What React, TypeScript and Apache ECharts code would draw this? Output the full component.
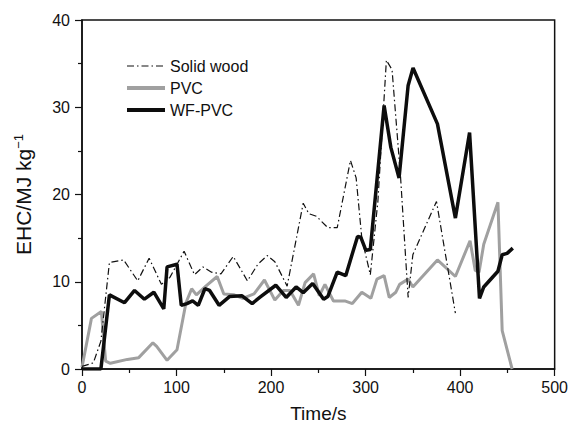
import React, { useEffect, useRef } from "react";
import * as echarts from "echarts";

const xTicks = [0, 100, 200, 300, 400, 500];
const yTicks = [0, 10, 20, 30, 40];

const seriesNames = ["Solid wood", "PVC", "WF-PVC"];

const solidWoodTime = [0, 12, 20, 29, 44, 59, 71, 84, 93, 108, 119, 128, 137, 147, 160, 175, 186, 196, 204, 217, 234, 240, 248, 260, 270, 284, 290, 296, 305, 313, 322, 328, 337, 345, 350, 375, 395];
const solidWoodEHC = [0.3, 0.7, 3.2, 12.2, 12.5, 10.1, 12.7, 9.7, 10.5, 13.5, 10.8, 11.7, 11.1, 10.9, 12.9, 10.1, 12.0, 13.0, 12.3, 9.5, 19.0, 17.8, 17.5, 16.2, 16.2, 23.9, 21.9, 15.0, 10.8, 19.2, 35.4, 34.3, 22.0, 8.2, 13.1, 19.2, 6.4];

const pvcTime = [0, 10, 20.5, 25, 30, 48, 60, 75, 79, 90, 100.5, 110, 116, 121, 131, 143, 150, 161, 170, 182, 193, 204, 213, 220, 229, 236, 245, 251, 257, 266, 278, 286, 296, 305.6, 312, 319.6, 325, 332, 336, 345, 350, 376, 395, 410.5, 416, 420, 425, 440, 444.5, 455];
const pvcEHC = [0.2, 5.8, 6.6, 0.9, 0.65, 1.1, 1.3, 3.0, 2.6, 1.0, 2.2, 7.6, 9.2, 8.5, 9.5, 10.6, 8.6, 8.5, 8.1, 8.6, 10.2, 7.9, 9.0, 9.0, 7.3, 9.9, 10.9, 8.4, 9.7, 7.8, 7.8, 7.5, 8.8, 8.1, 10.3, 10.7, 8.2, 8.8, 9.7, 10.3, 9.4, 12.5, 10.6, 14.7, 11.3, 11.1, 14.3, 19.1, 4.4, 0];

const wfpvcTime = [0, 20, 29, 45, 55.6, 66, 76, 86.5, 90, 100.5, 105, 111, 117, 123, 130, 135, 145, 156, 169, 180, 188, 205, 216, 226.5, 234, 244, 255.6, 260, 270, 279, 291.5, 295, 300.3, 305, 319.6, 326.7, 335.4, 345, 350.2, 376, 395, 410, 420.5, 425, 440, 444.5, 449.7, 455.7];
const wfpvcEHC = [0, 0, 8.5, 7.6, 9.0, 8.0, 8.8, 6.9, 11.7, 12.0, 7.3, 7.5, 7.8, 7.3, 9.2, 9.0, 7.3, 8.3, 8.4, 7.5, 8.2, 9.6, 8.2, 9.4, 8.75, 9.8, 8.0, 8.3, 11.1, 10.7, 15.2, 15.1, 13.6, 13.7, 30.2, 25.4, 21.9, 32.5, 34.5, 28.1, 17.3, 27.1, 8.1, 9.4, 11.2, 13.1, 13.25, 13.85];

const zip = (t: number[], v: number[]) => t.map((x, i) => [x, v[i]]);

const FONT = "'Liberation Sans', Arial, Helvetica, sans-serif";

const legendWidths = [1.2, 4, 4];
const lineColors = ["#111", "#a0a0a0", "#0d0d0d"];

export default function App() {
  const ref = useRef<HTMLDivElement>(null);
  useEffect(() => {
    if (!ref.current) return;
    const chart = echarts.init(ref.current, null, { renderer: "svg" });
    chart.setOption({
      animation: false,
      backgroundColor: "#fff",
      textStyle: { fontFamily: FONT, color: "#000" },
      grid: {
        left: 82,
        right: 15,
        top: 20,
        bottom: 55,
        show: true,
        borderColor: "#111",
        borderWidth: 1.5,
      },
      legend: {
        orient: "vertical",
        left: 120,
        top: 53,
        itemWidth: 38,
        itemHeight: 14,
        itemGap: 6,
        data: seriesNames.map((n, i) => ({
          name: n,
          lineStyle: { width: legendWidths[i], color: lineColors[i] },
        })),
        itemStyle: { opacity: 0 },
        textStyle: { fontFamily: FONT, fontSize: 16, color: "#111" },
      },
      xAxis: {
        type: "value",
        min: xTicks[0],
        max: xTicks[xTicks.length - 1],
        interval: 100,
        name: "Time/s",
        nameLocation: "middle",
        nameGap: 35,
        nameTextStyle: { fontFamily: FONT, fontSize: 19, color: "#111" },
        axisLine: { lineStyle: { color: "#111", width: 1.5 } },
        axisTick: { show: true, inside: false, length: 7, lineStyle: { color: "#111", width: 1.2 } },
        minorTick: { show: true, splitNumber: 2, length: 4, lineStyle: { color: "#111", width: 1.2 } },
        axisLabel: { fontFamily: FONT, fontSize: 16, color: "#111", margin: 10 },
        splitLine: { show: false },
      },
      yAxis: {
        type: "value",
        min: yTicks[0],
        max: yTicks[yTicks.length - 1],
        interval: 10,
        name: "EHC/MJ kg{sup|−1}",
        nameLocation: "middle",
        nameGap: 48,
        nameTextStyle: {
          fontFamily: FONT,
          fontSize: 21,
          color: "#111",
          rich: {
            sup: { fontFamily: FONT, fontSize: 13, color: "#111", verticalAlign: "top", padding: [0, 0, 9, 0] },
          },
        },
        axisLine: { lineStyle: { color: "#111", width: 1.5 } },
        axisTick: { show: true, inside: false, length: 7, lineStyle: { color: "#111", width: 1.2 } },
        minorTick: { show: true, splitNumber: 2, length: 4, lineStyle: { color: "#111", width: 1.2 } },
        axisLabel: { fontFamily: FONT, fontSize: 16, color: "#111", margin: 12 },
        splitLine: { show: false },
      },
      series: [
        {
          name: seriesNames[0],
          type: "line",
          data: zip(solidWoodTime, solidWoodEHC),
          showSymbol: false,
          symbol: "none",
          lineStyle: { color: lineColors[0], width: 1.2, type: [7, 3, 1.5, 3] },
          itemStyle: { color: lineColors[0] },
          z: 3,
        },
        {
          name: seriesNames[1],
          type: "line",
          data: zip(pvcTime, pvcEHC),
          showSymbol: false,
          symbol: "none",
          lineStyle: { color: lineColors[1], width: 3 },
          itemStyle: { color: lineColors[1] },
          z: 2,
        },
        {
          name: seriesNames[2],
          type: "line",
          data: zip(wfpvcTime, wfpvcEHC),
          showSymbol: false,
          symbol: "none",
          lineStyle: { color: lineColors[2], width: 3.5 },
          itemStyle: { color: lineColors[2] },
          z: 4,
        },
      ],
    });
    return () => chart.dispose();
  }, []);
  return (
    <div
      ref={ref}
      style={{ position: "fixed", left: 0, top: 0, width: 571, height: 428, background: "#fff" }}
    />
  );
}
